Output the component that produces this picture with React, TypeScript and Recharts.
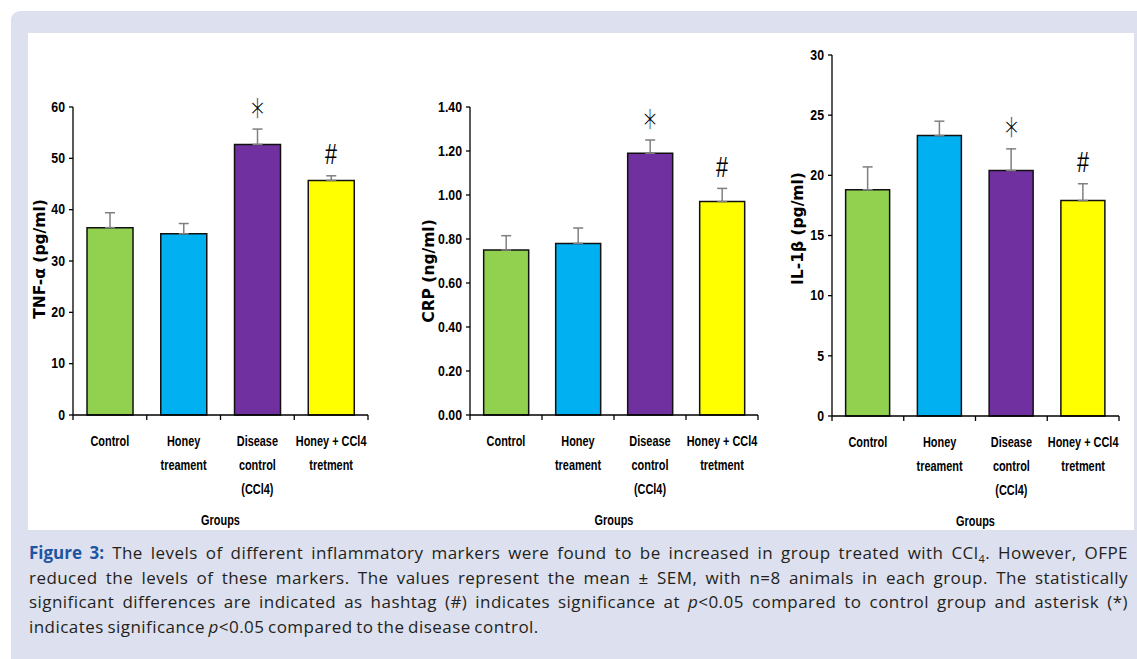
import React from "react";
import {
  BarChart,
  Bar,
  Cell,
  XAxis,
  YAxis,
  ErrorBar,
  ReferenceDot,
} from "recharts";

// groups on the x axis, each split into its printed lines
const groups = ["Control", "Honey treament", "Disease control (CCl4)", "Honey + CCl4 tretment"];
const groupLines = [["Control"], ["Honey", "treament"], ["Disease", "control", "(CCl4)"], ["Honey + CCl4", "tretment"]];
const barColors = ["#92d050", "#00b0f0", "#7030a0", "#ffff00"];
const marks = ["", "", "*", "#"];

// TNF-α (pg/ml)
const tnfMean = [36.5, 35.3, 52.7, 45.7];
const tnfSem = [2.9, 2.0, 3.0, 0.9];
const tnfTicks = [0, 10, 20, 30, 40, 50, 60];

// CRP (ng/ml)
const crpMean = [0.75, 0.78, 1.19, 0.97];
const crpSem = [0.065, 0.07, 0.06, 0.06];
const crpTicks = [0, 0.2, 0.4, 0.6, 0.8, 1.0, 1.2, 1.4];

// IL-1β (pg/ml)
const ilMean = [18.8, 23.3, 20.4, 17.9];
const ilSem = [1.9, 1.2, 1.8, 1.4];
const ilTicks = [0, 5, 10, 15, 20, 25, 30];

const sans = "'Liberation Sans', Arial, sans-serif";

// category label plus the boundary tick marks either side of the band
function GroupTick(props: any) {
  const { x, y, payload, index } = props;
  const half = payload.offset ?? 0;
  const lines = groupLines[groups.indexOf(payload.value)] || [payload.value];
  return (
    <g>
      {index === 0 && <line x1={x - half} x2={x - half} y1={y} y2={y + 5} stroke="#000" strokeWidth={1.3} />}
      <line x1={x + half} x2={x + half} y1={y} y2={y + 5} stroke="#000" strokeWidth={1.3} />
      <text transform={`translate(${x} ${y}) scale(0.78 1)`} textAnchor="middle" fontFamily={sans} fontWeight="bold" fontSize={14} fill="#000">
        {lines.map((l: string, i: number) => (
          <tspan key={i} x={0} dy={i === 0 ? 31 : 24}>
            {l}
          </tspan>
        ))}
      </text>
    </g>
  );
}

function ValueTick(props: any) {
  const { x, y, payload, digits } = props;
  return (
    <text transform={`translate(${x} ${y}) scale(0.88 1)`} textAnchor="end" dominantBaseline="central" fontFamily={sans} fontWeight="bold" fontSize={14} fill="#000">
      {Number(payload.value).toFixed(digits)}
    </text>
  );
}

function YTitle(props: any) {
  const { viewBox, value, dx, dy } = props;
  const cx = viewBox.x + viewBox.width + dx;
  const cy = viewBox.y + viewBox.height / 2 + dy;
  return (
    <text
      x={cx}
      y={cy}
      transform={`rotate(-90 ${cx} ${cy})`}
      textAnchor="middle"
      dominantBaseline="central"
      fontFamily="'DejaVu Sans', sans-serif"
      fontWeight="bold"
      fontSize={15.5}
      fill="#000"
    >
      {value}
    </text>
  );
}

function XTitle(props: any) {
  const { viewBox } = props;
  const cx = viewBox.x + viewBox.width / 2;
  return (
    <text transform={`translate(${cx} ${viewBox.y + 110}) scale(0.78 1)`} textAnchor="middle" fontFamily={sans} fontWeight="bold" fontSize={14} fill="#000">
      Groups
    </text>
  );
}

// significance sign sitting above the error bar
function Mark(props: any) {
  const { viewBox, sign } = props;
  const cx = viewBox.x + viewBox.width / 2;
  const cy = viewBox.y + viewBox.height / 2 - 22;
  return sign === "*" ? (
    // white outline thins the strokes of the asterisk glyph
    <text
      transform={`translate(${cx} ${cy}) scale(0.7 1.2)`}
      textAnchor="middle"
      dominantBaseline="central"
      fontFamily="'DejaVu Sans', sans-serif"
      fontSize={29}
      fill="#000"
      stroke="#fff"
      strokeWidth={1.2}
    >
      {"\u2217"}
    </text>
  ) : (
    <text transform={`translate(${cx} ${cy}) scale(0.72 1)`} textAnchor="middle" dominantBaseline="central" fontFamily={sans} fontSize={30} fill="#000">
      #
    </text>
  );
}

type PanelProps = {
  mean: number[];
  sem: number[];
  ticks: number[];
  digits: number;
  title: string;
  titleDx: number;
  titleDy: number;
  plotLeft: number;
  plotTop: number;
  plotRight: number;
  plotBottom: number;
};

const chartTop = 40;
const chartBottom = 535;

function Panel(p: PanelProps) {
  const data = groups.map((g, i) => ({ group: g, mean: p.mean[i], err: [0, p.sem[i]] }));
  const left = p.plotLeft - 68;
  const width = p.plotRight - left + 10;
  const height = chartBottom - chartTop;
  const axisHeight = chartBottom - p.plotBottom;
  return (
    <div style={{ position: "absolute", left, top: chartTop }}>
      <BarChart
        width={width}
        height={height}
        data={data}
        barCategoryGap="19%"
        margin={{ top: p.plotTop - chartTop, right: 10, bottom: 0, left: 8 }}
      >
        <XAxis
          xAxisId="cat"
          dataKey="group"
          height={axisHeight}
          interval={0}
          axisLine={{ stroke: "#000", strokeWidth: 1.3 }}
          tickLine={false}
          tickSize={0}
          tickMargin={0}
          tick={<GroupTick />}
          label={<XTitle />}
        />
        <YAxis
          width={60}
          domain={[0, p.ticks[p.ticks.length - 1]]}
          ticks={p.ticks}
          interval={0}
          axisLine={{ stroke: "#000", strokeWidth: 1.3 }}
          tickLine={{ stroke: "#000", strokeWidth: 1.3 }}
          tickSize={4}
          tickMargin={4}
          tick={<ValueTick digits={p.digits} />}
          label={<YTitle value={p.title} dx={p.titleDx} dy={p.titleDy} />}
        />
        <Bar xAxisId="cat" dataKey="mean" stroke="#111" strokeWidth={1.5} isAnimationActive={false}>
          {data.map((_, i) => (
            <Cell key={i} fill={barColors[i]} />
          ))}
          <ErrorBar dataKey="err" direction="y" width={5} stroke="#7f7f7f" strokeWidth={1.5} />
        </Bar>
        {groups.map((g, i) =>
          marks[i] ? (
            <ReferenceDot
              key={g}
              xAxisId="cat"
              x={g}
              y={p.mean[i] + p.sem[i]}
              r={1}
              fill="none"
              stroke="none"
              label={<Mark sign={marks[i]} />}
            />
          ) : null
        )}
      </BarChart>
    </div>
  );
}

const captionLine: React.CSSProperties = { textAlign: "justify", textAlignLast: "justify", whiteSpace: "nowrap" };

export default function App() {
  return (
    <div style={{ position: "absolute", left: 0, top: 0, width: 1137, height: 659, background: "#fff", overflow: "hidden" }}>
      <div style={{ position: "absolute", left: 11, top: 11, width: 1140, height: 660, background: "#dde0ee", borderTopLeftRadius: 9 }} />
      <div style={{ position: "absolute", left: 28, top: 33, width: 1106, height: 497, background: "#fff" }} />

      <Panel mean={tnfMean} sem={tnfSem} ticks={tnfTicks} digits={0} title="TNF-α (pg/ml)" titleDx={-33} titleDy={-2}
        plotLeft={73} plotTop={107} plotRight={368} plotBottom={415} />
      <Panel mean={crpMean} sem={crpSem} ticks={crpTicks} digits={2} title="CRP (ng/ml)" titleDx={-41} titleDy={10}
        plotLeft={470} plotTop={107} plotRight={758} plotBottom={415} />
      <Panel mean={ilMean} sem={ilSem} ticks={ilTicks} digits={0} title="IL-1β (pg/ml)" titleDx={-34} titleDy={-7}
        plotLeft={832} plotTop={55} plotRight={1119} plotBottom={416} />

      <div style={{ position: "absolute", left: 29, top: 541, width: 1099, fontFamily: "'Open Sans', sans-serif", fontSize: 17, lineHeight: "24.5px", color: "#231f20", letterSpacing: 0.45, wordSpacing: -1.2 }}>
        <div style={captionLine}>
          <b style={{ color: "#1d56a0", letterSpacing: 0 }}>Figure 3:</b> The levels of different inflammatory markers were found to be increased in group treated with CCl
          <sub style={{ fontSize: 11, verticalAlign: -4, lineHeight: 0 }}>4</sub>. However, OFPE
        </div>
        <div style={captionLine}>
          reduced the levels of these markers. The values represent the mean ± SEM, with n=8 animals in each group. The statistically
        </div>
        <div style={captionLine}>
          significant differences are indicated as hashtag (#) indicates significance at <i>p</i>&lt;0.05 compared to control group and asterisk (*)
        </div>
        <div>
          indicates significance <i>p</i>&lt;0.05 compared to the disease control.
        </div>
      </div>
    </div>
  );
}
